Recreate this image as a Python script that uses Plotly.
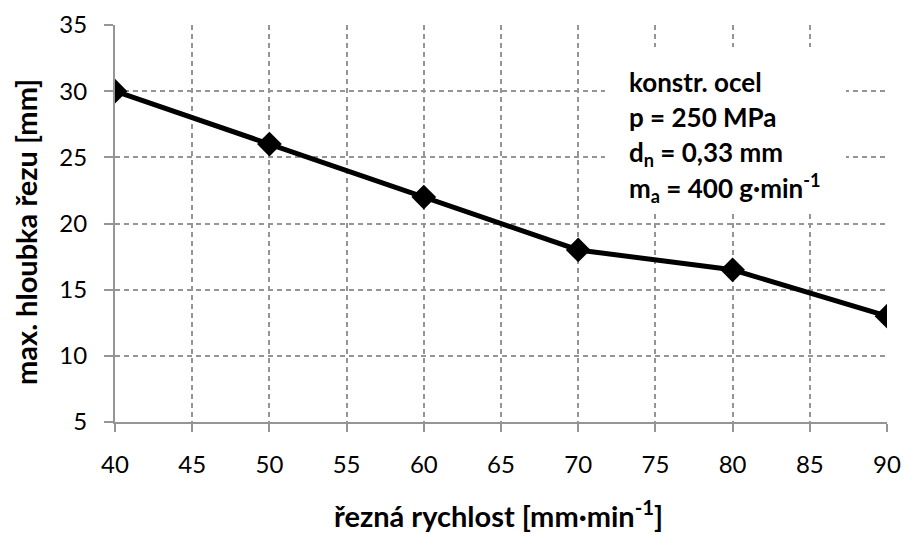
import plotly.graph_objects as go

# cutting speed vs. maximum depth of cut
speed = [40, 50, 60, 70, 80, 90]
depth = [30, 26, 22, 18, 16.5, 13]
x_ticks = [40, 45, 50, 55, 60, 65, 70, 75, 80, 85, 90]
y_ticks = [5, 10, 15, 20, 25, 30, 35]

note_lines = [
    "konstr. ocel",
    "p = 250 MPa",
    "d<sub>n</sub> = 0,33 mm",
    "m<sub>a</sub> = 400 g·min<sup>-1</sup>",
]
x_title = "řezná rychlost [mm·min<sup>-1</sup>]"
y_title = "max. hloubka řezu [mm]"

FONT = "Lato"
GRID = "#959595"
W, H = 903, 534
PLOT_LEFT, PLOT_RIGHT = 115, 887
PLOT_TOP, PLOT_BOTTOM = 25, 422
PW = PLOT_RIGHT - PLOT_LEFT
PH = PLOT_BOTTOM - PLOT_TOP


def px(x):
    return (x - PLOT_LEFT) / PW


def py(y):
    return (PLOT_BOTTOM - y) / PH


fig = go.Figure()
fig.add_trace(go.Scatter(
    x=speed, y=depth, mode="lines+markers",
    line=dict(color="black", width=5),
    marker=dict(symbol="diamond", size=19, color="black"),
    showlegend=False,
))

axis_common = dict(
    ticks="outside", tickcolor=GRID, tickwidth=2, ticklabelstandoff=12,
    showline=True, linecolor=GRID, linewidth=2,
    showgrid=True, gridcolor=GRID, griddash="5px,4px", gridwidth=1.5,
    zeroline=False, automargin=False, tickfont=dict(size=24, family=FONT),
)

fig.update_layout(
    width=W, height=H,
    margin=dict(l=PLOT_LEFT, r=W - PLOT_RIGHT, t=PLOT_TOP, b=H - PLOT_BOTTOM),
    paper_bgcolor="white", plot_bgcolor="white",
    font=dict(family=FONT, color="black", size=24),
    xaxis=dict(range=[40, 90], tickvals=x_ticks, ticklen=8, **axis_common),
    yaxis=dict(range=[5, 35], tickvals=y_ticks, ticklen=9, **axis_common),
)

# axis titles
fig.add_annotation(
    xref="paper", yref="paper", x=px(498), y=py(514),
    xanchor="center", yanchor="middle", showarrow=False,
    text=f"<b>{x_title}</b>", font=dict(size=29, family=FONT, color="black"),
)
fig.add_annotation(
    xref="paper", yref="paper", x=px(25), y=py(232),
    xanchor="center", yanchor="middle", showarrow=False, textangle=-90,
    text=f"<b>{y_title}</b>", font=dict(size=29, family=FONT, color="black"),
)

# white box behind the parameter block, covering the grid
fig.add_shape(
    type="rect", xref="paper", yref="paper", layer="above",
    x0=px(605), x1=px(846), y0=py(213), y1=py(47),
    fillcolor="white", line=dict(width=0),
)

line_centres = [82, 117, 153, 188]
for text, yc in zip(note_lines, line_centres):
    fig.add_annotation(
        xref="paper", yref="paper", x=px(627), y=py(yc),
        xanchor="left", yanchor="middle", align="left", showarrow=False,
        text=f"<b>{text}</b>",
        font=dict(size=26, family=FONT, color="black"),
    )

fig.write_html("out.html")
